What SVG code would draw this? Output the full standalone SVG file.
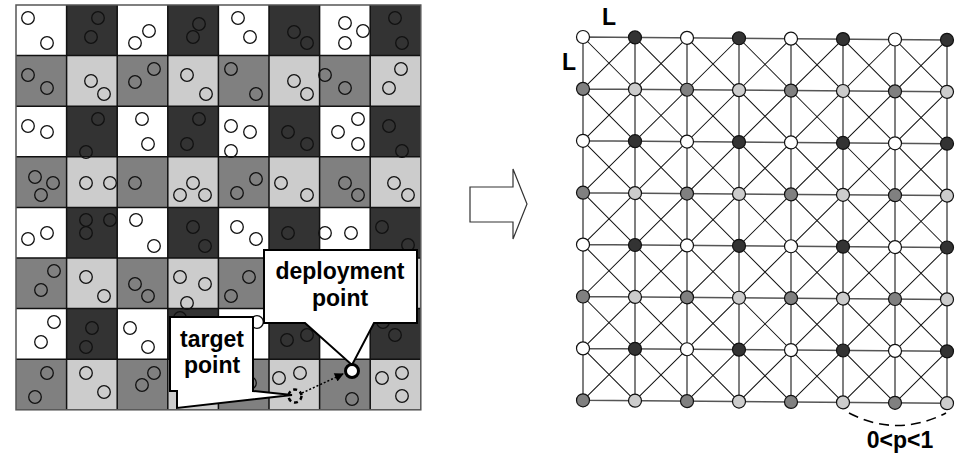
<svg xmlns="http://www.w3.org/2000/svg" width="956" height="455" viewBox="0 0 956 455">
<style>
.c{fill:none;stroke:#111;stroke-width:1.3}
.ln{stroke:#555;stroke-width:1.5;fill:none}
.dg{stroke:#111;stroke-width:1;fill:none}
.nd{stroke:#111;stroke-width:1.2}
.w{fill:#fff}.d{fill:#333}.m{fill:#808080}.l{fill:#ccc}
.t{font-family:"Liberation Sans",Arial,sans-serif;font-weight:bold;fill:#000}
.co{fill:#fff;stroke:#000;stroke-width:2;stroke-linejoin:miter}
</style>
<defs>
<pattern id="chk" x="16" y="5" width="101.2" height="101.2" patternUnits="userSpaceOnUse">
<rect x="0" y="0" width="50.6" height="50.6" fill="#fff"/>
<rect x="50.6" y="0" width="50.6" height="50.6" fill="#333"/>
<rect x="0" y="50.6" width="50.6" height="50.6" fill="#808080"/>
<rect x="50.6" y="50.6" width="50.6" height="50.6" fill="#ccc"/>
</pattern>
<marker id="ah" viewBox="0 0 10 10" refX="9" refY="5" markerWidth="10" markerHeight="9" markerUnits="userSpaceOnUse" orient="auto">
<path d="M0,0 L10,5 L0,10 Z" fill="#000"/>
</marker>
</defs>
<rect width="956" height="455" fill="#fff"/>
<g id="sensor-field">
<rect x="16" y="5" width="404.8" height="404.8" fill="url(#chk)"/>
<path d="M66.6 5V409.8M117.2 5V409.8M167.8 5V409.8M218.4 5V409.8M269 5V409.8M319.6 5V409.8M370.2 5V409.8M16 55.6H420.8M16 106.2H420.8M16 156.8H420.8M16 207.4H420.8M16 258H420.8M16 308.6H420.8M16 359.2H420.8" stroke="#111" stroke-width="1.5" fill="none"/>
<rect x="16" y="5" width="404.8" height="404.8" fill="none" stroke="#555" stroke-width="1.5"/>
<g class="c">
<circle cx="28" cy="18" r="6.3"/><circle cx="47" cy="43" r="6.3"/><circle cx="98" cy="18" r="6.3"/><circle cx="91" cy="37" r="6.3"/><circle cx="149" cy="31" r="6.3"/><circle cx="135" cy="43" r="6.3"/><circle cx="199" cy="24" r="6.3"/><circle cx="193" cy="37" r="6.3"/><circle cx="238" cy="18" r="6.3"/><circle cx="250" cy="37" r="6.3"/><circle cx="294" cy="32" r="6.3"/><circle cx="307" cy="43" r="6.3"/><circle cx="345" cy="23" r="6.3"/><circle cx="363" cy="31" r="6.3"/><circle cx="345" cy="43" r="6.3"/><circle cx="395" cy="18" r="6.3"/><circle cx="402" cy="43" r="6.3"/>
<circle cx="28" cy="75" r="6.3"/><circle cx="47" cy="88" r="6.3"/><circle cx="91" cy="81" r="6.3"/><circle cx="104" cy="94" r="6.3"/><circle cx="154" cy="69" r="6.3"/><circle cx="135" cy="82" r="6.3"/><circle cx="187" cy="75" r="6.3"/><circle cx="206" cy="94" r="6.3"/><circle cx="231" cy="69" r="6.3"/><circle cx="256" cy="94" r="6.3"/><circle cx="294" cy="81" r="6.3"/><circle cx="307" cy="94" r="6.3"/><circle cx="325" cy="75" r="6.3"/><circle cx="345" cy="88" r="6.3"/><circle cx="401" cy="69" r="6.3"/><circle cx="389" cy="88" r="6.3"/>
<circle cx="28" cy="126" r="6.3"/><circle cx="47" cy="132" r="6.3"/><circle cx="98" cy="119" r="6.3"/><circle cx="86" cy="152" r="6.3"/><circle cx="142" cy="119" r="6.3"/><circle cx="148" cy="144" r="6.3"/><circle cx="199" cy="119" r="6.3"/><circle cx="187" cy="144" r="6.3"/><circle cx="231" cy="126" r="6.3"/><circle cx="250" cy="132" r="6.3"/><circle cx="231" cy="151" r="6.3"/><circle cx="288" cy="132" r="6.3"/><circle cx="307" cy="144" r="6.3"/><circle cx="358" cy="119" r="6.3"/><circle cx="338" cy="132" r="6.3"/><circle cx="358" cy="144" r="6.3"/><circle cx="389" cy="126" r="6.3"/><circle cx="402" cy="151" r="6.3"/>
<circle cx="35" cy="177" r="6.3"/><circle cx="53" cy="183" r="6.3"/><circle cx="41" cy="195" r="6.3"/><circle cx="86" cy="183" r="6.3"/><circle cx="110" cy="183" r="6.3"/><circle cx="135" cy="183" r="6.3"/><circle cx="193" cy="183" r="6.3"/><circle cx="180" cy="195" r="6.3"/><circle cx="205" cy="195" r="6.3"/><circle cx="256" cy="179" r="6.3"/><circle cx="237" cy="193" r="6.3"/><circle cx="281" cy="183" r="6.3"/><circle cx="307" cy="195" r="6.3"/><circle cx="345" cy="183" r="6.3"/><circle cx="358" cy="195" r="6.3"/><circle cx="394" cy="183" r="6.3"/><circle cx="408" cy="195" r="6.3"/>
<circle cx="28" cy="239" r="6.3"/><circle cx="47" cy="233" r="6.3"/><circle cx="86" cy="220" r="6.3"/><circle cx="110" cy="220" r="6.3"/><circle cx="86" cy="233" r="6.3"/><circle cx="136" cy="220" r="6.3"/><circle cx="154" cy="246" r="6.3"/><circle cx="193" cy="227" r="6.3"/><circle cx="205" cy="246" r="6.3"/><circle cx="237" cy="227" r="6.3"/><circle cx="256" cy="239" r="6.3"/><circle cx="288" cy="233" r="6.3"/><circle cx="325" cy="233" r="6.3"/><circle cx="351" cy="233" r="6.3"/><circle cx="382" cy="227" r="6.3"/><circle cx="408" cy="245" r="6.3"/>
<circle cx="54" cy="271" r="6.3"/><circle cx="41" cy="290" r="6.3"/><circle cx="86" cy="277" r="6.3"/><circle cx="104" cy="296" r="6.3"/><circle cx="135" cy="284" r="6.3"/><circle cx="148" cy="296" r="6.3"/><circle cx="180" cy="277" r="6.3"/><circle cx="205" cy="284" r="6.3"/><circle cx="187" cy="303" r="6.3"/><circle cx="249" cy="277" r="6.3"/><circle cx="231" cy="296" r="6.3"/>
<circle cx="54" cy="322" r="6.3"/><circle cx="41" cy="342" r="6.3"/><circle cx="92" cy="328" r="6.3"/><circle cx="86" cy="347" r="6.3"/><circle cx="130" cy="328" r="6.3"/><circle cx="148" cy="347" r="6.3"/><circle cx="180" cy="318" r="6.3"/><circle cx="257" cy="322" r="6.3"/><circle cx="287" cy="340" r="6.3"/><circle cx="307" cy="335" r="6.3"/><circle cx="383" cy="322" r="6.3"/><circle cx="395" cy="335" r="6.3"/>
<circle cx="47" cy="373" r="6.3"/><circle cx="35" cy="397" r="6.3"/><circle cx="86" cy="373" r="6.3"/><circle cx="104" cy="392" r="6.3"/><circle cx="154" cy="373" r="6.3"/><circle cx="142" cy="385" r="6.3"/><circle cx="250" cy="383" r="6.3"/><circle cx="279" cy="378" r="6.3"/><circle cx="300" cy="373" r="6.3"/><circle cx="352" cy="399" r="6.3"/><circle cx="382" cy="378" r="6.3"/><circle cx="402" cy="373" r="6.3"/><circle cx="402" cy="396" r="6.3"/>
</g>
</g>
<g id="target-callout">
<polygon class="co" points="170,317 253,317 253,391 292,395 177,408 177,391 170,391"/>
<text class="t" x="212" y="347" font-size="23" text-anchor="middle">target</text>
<text class="t" x="212" y="373" font-size="23" text-anchor="middle">point</text>
</g>
<g id="deployment-callout">
<polygon class="co" points="264,250 417,250 417,323 374,323 352,365 305,323 264,323"/>
<text class="t" x="340" y="279" font-size="23" text-anchor="middle">deployment</text>
<text class="t" x="340" y="306" font-size="23" text-anchor="middle">point</text>
</g>
<g id="target-point">
<circle cx="295" cy="396" r="6.5" fill="none" stroke="#000" stroke-width="2.5" stroke-dasharray="4 3"/>
</g>
<g id="deployment-point">
<circle cx="352" cy="371" r="6.5" fill="#fff" stroke="#000" stroke-width="3"/>
</g>
<g id="move-arrow">
<line x1="302" y1="393" x2="343" y2="374" stroke="#000" stroke-width="1.5" stroke-dasharray="2 2" marker-end="url(#ah)"/>
</g>
<g id="block-arrow">
<polygon points="470,187 513,187 513,169 527,204 513,239 513,222 470,222" fill="#fff" stroke="#333" stroke-width="1.2"/>
</g>
<g id="lattice" transform="matrix(1 0.008 0 1 0 -4.66)">
<g id="connectors">
<path class="ln" d="M583 37H947M583 88.9H947M583 140.8H947M583 192.7H947M583 244.6H947M583 296.5H947M583 348.4H947M583 400.3H947M583 37V400.3M635 37V400.3M687 37V400.3M739 37V400.3M791 37V400.3M843 37V400.3M895 37V400.3M947 37V400.3"/>
<path class="dg" d="M583 37L947 400.3M635 37L947 348.4M687 37L947 296.5M739 37L947 244.6M791 37L947 192.7M843 37L947 140.8M895 37L947 88.9M583 88.9L895 400.3M583 140.8L843 400.3M583 192.7L791 400.3M583 244.6L739 400.3M583 296.5L687 400.3M583 348.4L635 400.3M635 37L583 88.9M687 37L583 140.8M739 37L583 192.7M791 37L583 244.6M843 37L583 296.5M895 37L583 348.4M947 37L583 400.3M947 88.9L635 400.3M947 140.8L687 400.3M947 192.7L739 400.3M947 244.6L791 400.3M947 296.5L843 400.3M947 348.4L895 400.3"/>
</g>
<g class="nd">
<g id="n00"><circle class="w" cx="583" cy="37" r="6.5"/></g><g id="n01"><circle class="d" cx="635" cy="37" r="6.5"/></g><g id="n02"><circle class="w" cx="687" cy="37" r="6.5"/></g><g id="n03"><circle class="d" cx="739" cy="37" r="6.5"/></g><g id="n04"><circle class="w" cx="791" cy="37" r="6.5"/></g><g id="n05"><circle class="d" cx="843" cy="37" r="6.5"/></g><g id="n06"><circle class="w" cx="895" cy="37" r="6.5"/></g><g id="n07"><circle class="d" cx="947" cy="37" r="6.5"/></g>
<g id="n10"><circle class="m" cx="583" cy="88.9" r="6.5"/></g><g id="n11"><circle class="l" cx="635" cy="88.9" r="6.5"/></g><g id="n12"><circle class="m" cx="687" cy="88.9" r="6.5"/></g><g id="n13"><circle class="l" cx="739" cy="88.9" r="6.5"/></g><g id="n14"><circle class="m" cx="791" cy="88.9" r="6.5"/></g><g id="n15"><circle class="l" cx="843" cy="88.9" r="6.5"/></g><g id="n16"><circle class="m" cx="895" cy="88.9" r="6.5"/></g><g id="n17"><circle class="l" cx="947" cy="88.9" r="6.5"/></g>
<g id="n20"><circle class="w" cx="583" cy="140.8" r="6.5"/></g><g id="n21"><circle class="d" cx="635" cy="140.8" r="6.5"/></g><g id="n22"><circle class="w" cx="687" cy="140.8" r="6.5"/></g><g id="n23"><circle class="d" cx="739" cy="140.8" r="6.5"/></g><g id="n24"><circle class="w" cx="791" cy="140.8" r="6.5"/></g><g id="n25"><circle class="d" cx="843" cy="140.8" r="6.5"/></g><g id="n26"><circle class="w" cx="895" cy="140.8" r="6.5"/></g><g id="n27"><circle class="d" cx="947" cy="140.8" r="6.5"/></g>
<g id="n30"><circle class="m" cx="583" cy="192.7" r="6.5"/></g><g id="n31"><circle class="l" cx="635" cy="192.7" r="6.5"/></g><g id="n32"><circle class="m" cx="687" cy="192.7" r="6.5"/></g><g id="n33"><circle class="l" cx="739" cy="192.7" r="6.5"/></g><g id="n34"><circle class="m" cx="791" cy="192.7" r="6.5"/></g><g id="n35"><circle class="l" cx="843" cy="192.7" r="6.5"/></g><g id="n36"><circle class="m" cx="895" cy="192.7" r="6.5"/></g><g id="n37"><circle class="l" cx="947" cy="192.7" r="6.5"/></g>
<g id="n40"><circle class="w" cx="583" cy="244.6" r="6.5"/></g><g id="n41"><circle class="d" cx="635" cy="244.6" r="6.5"/></g><g id="n42"><circle class="w" cx="687" cy="244.6" r="6.5"/></g><g id="n43"><circle class="d" cx="739" cy="244.6" r="6.5"/></g><g id="n44"><circle class="w" cx="791" cy="244.6" r="6.5"/></g><g id="n45"><circle class="d" cx="843" cy="244.6" r="6.5"/></g><g id="n46"><circle class="w" cx="895" cy="244.6" r="6.5"/></g><g id="n47"><circle class="d" cx="947" cy="244.6" r="6.5"/></g>
<g id="n50"><circle class="m" cx="583" cy="296.5" r="6.5"/></g><g id="n51"><circle class="l" cx="635" cy="296.5" r="6.5"/></g><g id="n52"><circle class="m" cx="687" cy="296.5" r="6.5"/></g><g id="n53"><circle class="l" cx="739" cy="296.5" r="6.5"/></g><g id="n54"><circle class="m" cx="791" cy="296.5" r="6.5"/></g><g id="n55"><circle class="l" cx="843" cy="296.5" r="6.5"/></g><g id="n56"><circle class="m" cx="895" cy="296.5" r="6.5"/></g><g id="n57"><circle class="l" cx="947" cy="296.5" r="6.5"/></g>
<g id="n60"><circle class="w" cx="583" cy="348.4" r="6.5"/></g><g id="n61"><circle class="d" cx="635" cy="348.4" r="6.5"/></g><g id="n62"><circle class="w" cx="687" cy="348.4" r="6.5"/></g><g id="n63"><circle class="d" cx="739" cy="348.4" r="6.5"/></g><g id="n64"><circle class="w" cx="791" cy="348.4" r="6.5"/></g><g id="n65"><circle class="d" cx="843" cy="348.4" r="6.5"/></g><g id="n66"><circle class="w" cx="895" cy="348.4" r="6.5"/></g><g id="n67"><circle class="d" cx="947" cy="348.4" r="6.5"/></g>
<g id="n70"><circle class="m" cx="583" cy="400.3" r="6.5"/></g><g id="n71"><circle class="l" cx="635" cy="400.3" r="6.5"/></g><g id="n72"><circle class="m" cx="687" cy="400.3" r="6.5"/></g><g id="n73"><circle class="l" cx="739" cy="400.3" r="6.5"/></g><g id="n74"><circle class="m" cx="791" cy="400.3" r="6.5"/></g><g id="n75"><circle class="l" cx="843" cy="400.3" r="6.5"/></g><g id="n76"><circle class="m" cx="895" cy="400.3" r="6.5"/></g><g id="n77"><circle class="l" cx="947" cy="400.3" r="6.5"/></g>
</g>
</g>
<g id="labels">
<text class="t" x="602" y="25" font-size="23">L</text>
<text class="t" x="562" y="70" font-size="23">L</text>
<path d="M849 413 Q897 438 946 413" fill="none" stroke="#000" stroke-width="1.6" stroke-dasharray="10 6"/>
<text class="t" x="900" y="448" font-size="23" text-anchor="middle">0&lt;p&lt;1</text>
</g>
</svg>
